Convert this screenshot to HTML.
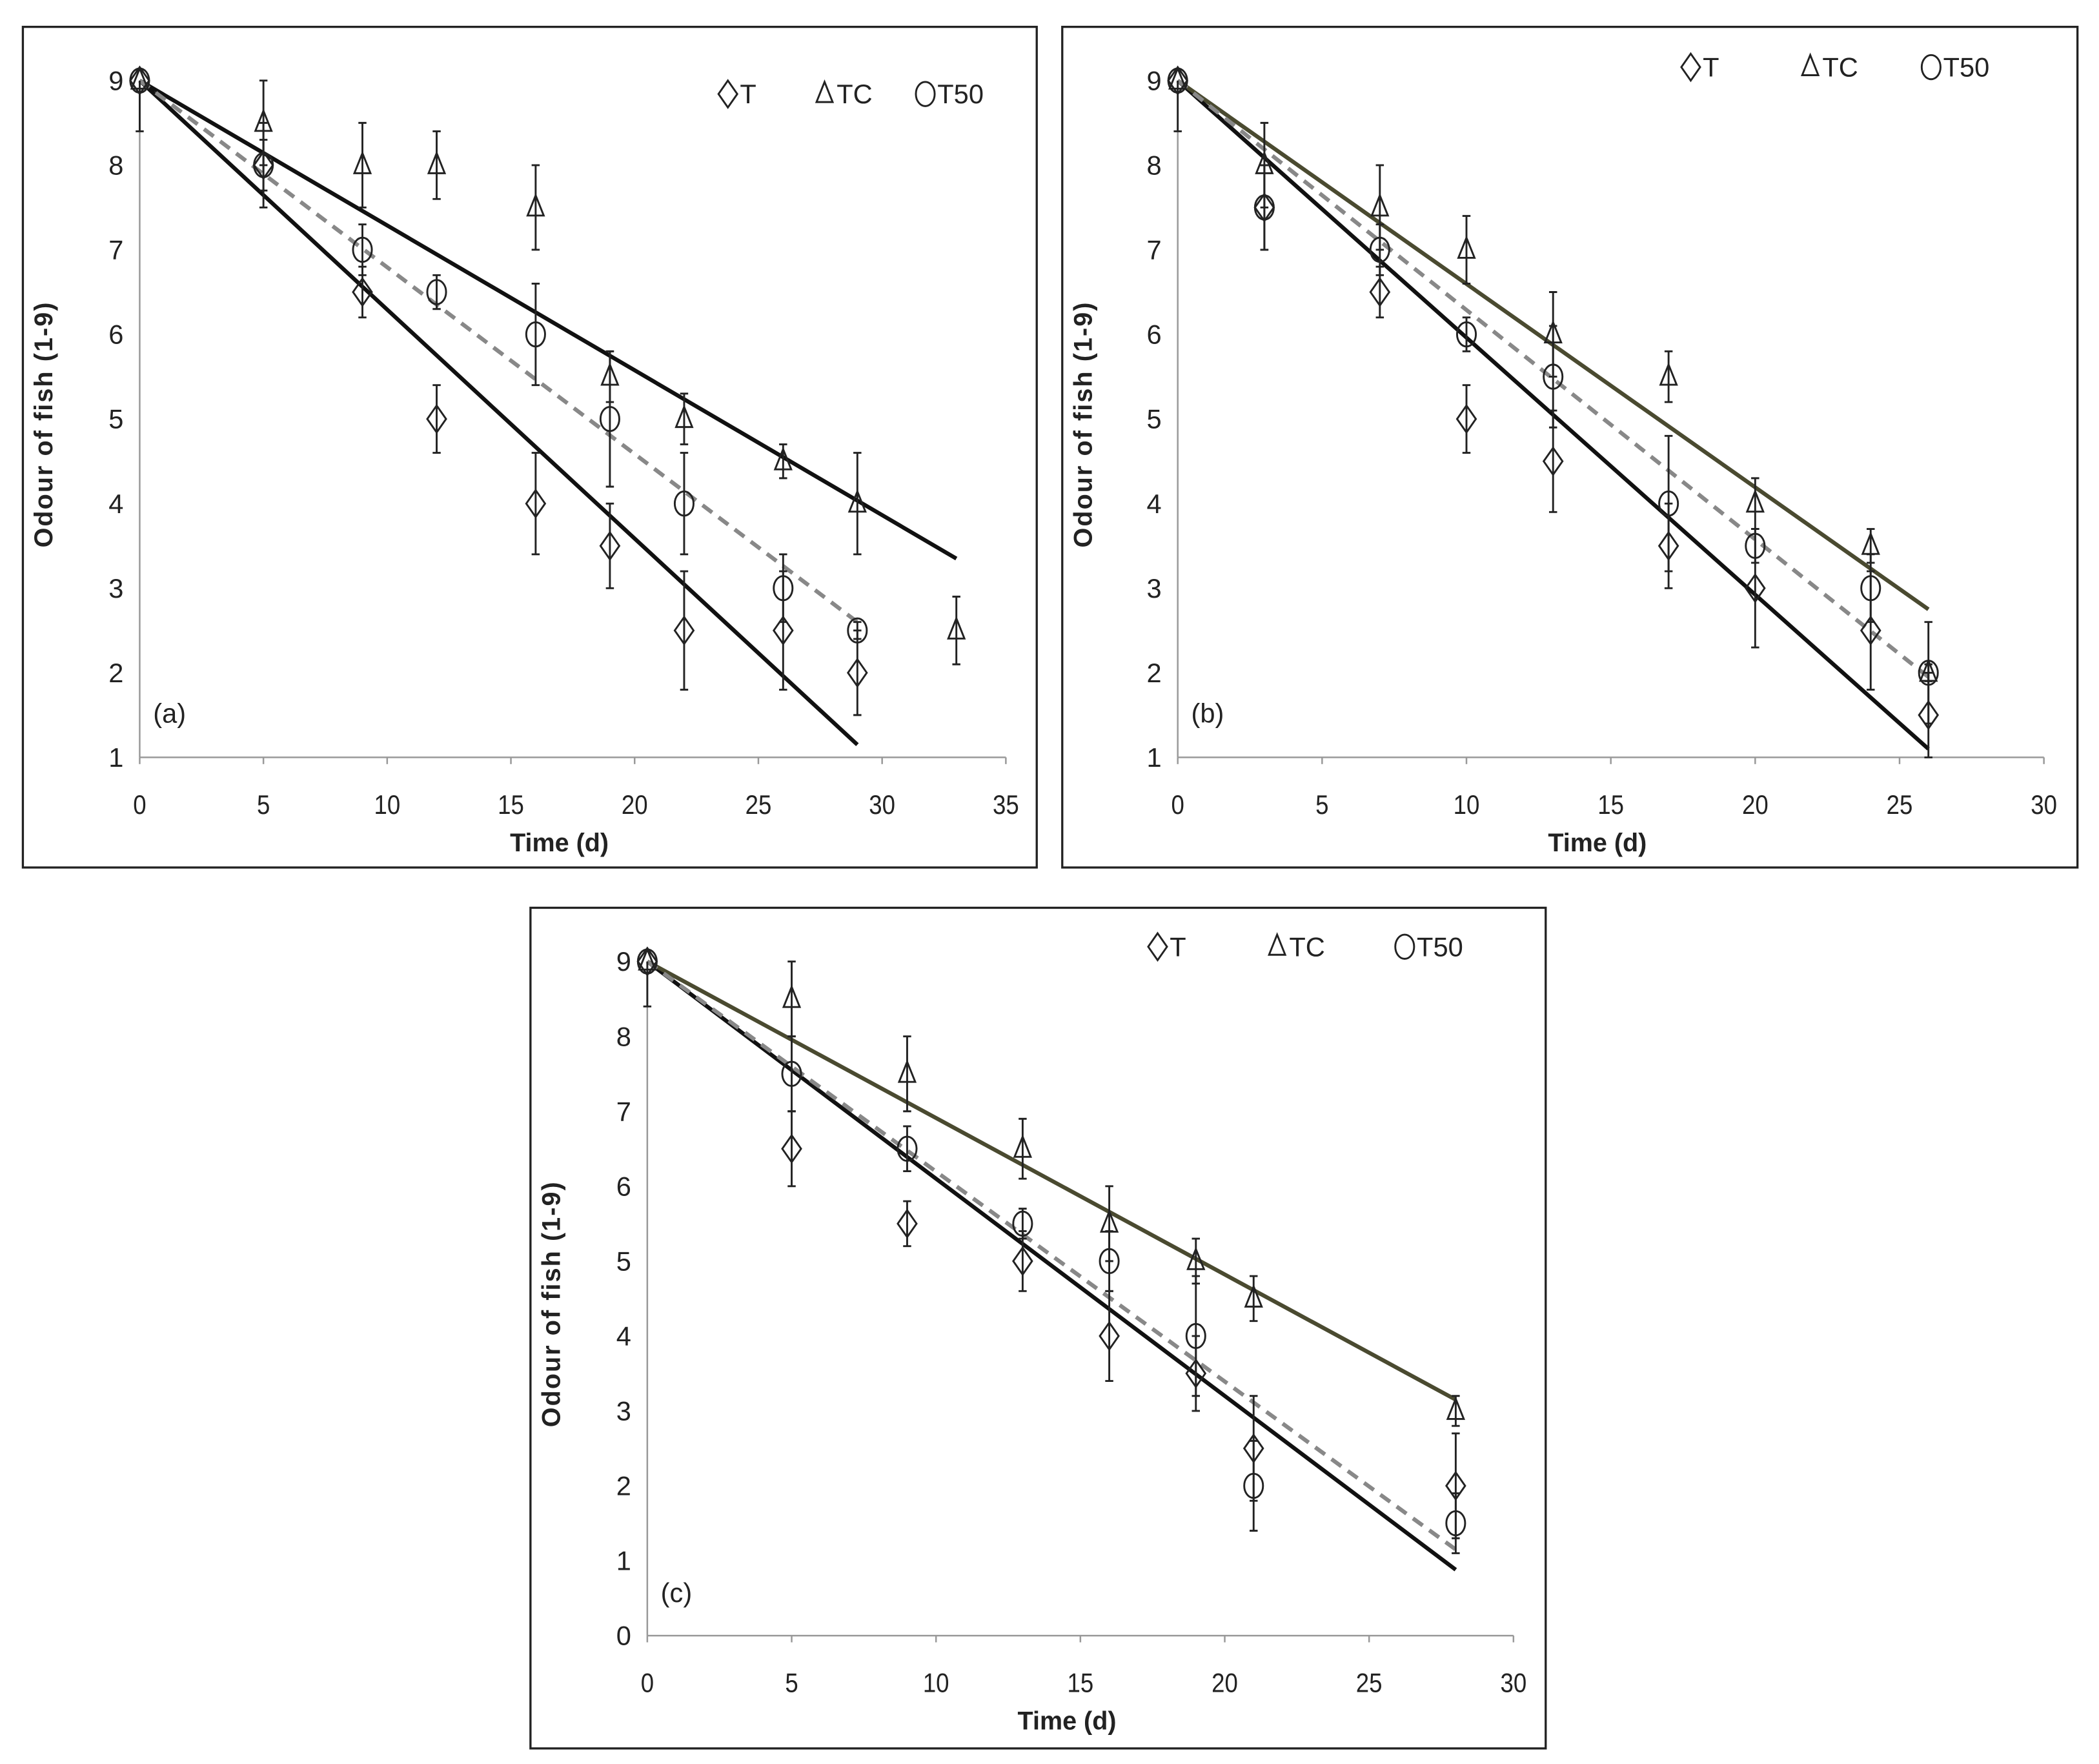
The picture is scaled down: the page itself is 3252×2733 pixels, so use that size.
<!DOCTYPE html>
<html><head><meta charset="utf-8"><style>
html,body{margin:0;padding:0;background:#fff;}
svg{display:block;}
text{font-family:"Liberation Sans",sans-serif;}
</style></head><body>
<svg id="fig" width="3252" height="2733" viewBox="0 0 1563 1313.6" xmlns="http://www.w3.org/2000/svg"></svg>
<script>
// Panel (a)
const aT_x=[0,5,9,12,16,19,22,26,29];
const aT_y=[9,8,6.5,5,4,3.5,2.5,2.5,2];
const aT_e=[0.6,0.5,0.3,0.4,0.6,0.5,0.7,0.7,0.5];
const aTC_x=[0,5,9,12,16,19,22,26,29,33];
const aTC_y=[9,8.5,8,8,7.5,5.5,5,4.5,4,2.5];
const aTC_e=[0,0.5,0.5,0.4,0.5,0.3,0.3,0.2,0.6,0.4];
const aT50_x=[0,5,9,12,16,19,22,26,29];
const aT50_y=[9,8,7,6.5,6,5,4,3,2.5];
const aT50_e=[0,0.3,0.3,0.2,0.6,0.8,0.6,0.4,0.1];
const aFit_T=[0,9,29,1.15];
const aFit_TC=[0,9,33,3.35];
const aFit_T50=[0,9,29,2.6];
// Panel (b)
const bT_x=[0,3,7,10,13,17,20,24,26];
const bT_y=[9,7.5,6.5,5,4.5,3.5,3,2.5,1.5];
const bT_e=[0.6,0.5,0.3,0.4,0.6,0.5,0.7,0.7,0.5];
const bTC_x=[0,3,7,10,13,17,20,24,26];
const bTC_y=[9,8,7.5,7,6,5.5,4,3.5,2];
const bTC_e=[0,0.5,0.5,0.4,0.5,0.3,0.3,0.2,0.6];
const bT50_x=[0,3,7,10,13,17,20,24,26];
const bT50_y=[9,7.5,7,6,5.5,4,3.5,3,2];
const bT50_e=[0,0.5,0.3,0.2,0.6,0.8,0.2,0.4,0.1];
const bFit_T=[0,9,26,1.1];
const bFit_TC=[0,9,26,2.75];
const bFit_T50=[0,9,26,1.95];
// Panel (c)
const cT_x=[0,5,9,13,16,19,21,28];
const cT_y=[9,6.5,5.5,5,4,3.5,2.5,2];
const cT_e=[0.6,0.5,0.3,0.4,0.6,0.5,0.7,0.7];
const cTC_x=[0,5,9,13,16,19,21,28];
const cTC_y=[9,8.5,7.5,6.5,5.5,5,4.5,3];
const cTC_e=[0,0.5,0.5,0.4,0.5,0.3,0.3,0.2];
const cT50_x=[0,5,9,13,16,19,21,28];
const cT50_y=[9,7.5,6.5,5.5,5,4,2,1.5];
const cT50_e=[0,0.5,0.3,0.2,0.4,0.8,0.6,0.4];
const cFit_T=[0,9,28,0.88];
const cFit_TC=[0,9,28,3.15];
const cFit_T50=[0,9,28,1.15];

const NS="http://www.w3.org/2000/svg";
const svg=document.getElementById('fig');
function mk(tag,attrs,parent){const e=document.createElementNS(NS,tag);for(const k in attrs)e.setAttribute(k,attrs[k]);(parent||svg).appendChild(e);return e;}

function panel(cfg){
  const g=mk('g',{});
  
  
  const fr=mk('rect',{x:cfg.fx,y:cfg.fy,width:cfg.fw,height:cfg.fh,fill:'none',stroke:'#222','stroke-width':1.6},g);
  
  
  const X=v=>cfg.x0+(v-cfg.xmin)/(cfg.xmax-cfg.xmin)*(cfg.x1-cfg.x0);
  const Y=v=>cfg.y0+(v-cfg.ymin)/(cfg.ymax-cfg.ymin)*(cfg.y1-cfg.y0);
  const ax=mk('line',{x1:X(cfg.xmin),y1:Y(cfg.ymin),x2:X(cfg.xmax),y2:Y(cfg.ymin),stroke:'#999','stroke-width':1.2},g);
  
  
  const ay=mk('line',{x1:X(cfg.xmin),y1:Y(cfg.ymin),x2:X(cfg.xmin),y2:Y(cfg.ymax),stroke:'#999','stroke-width':1.2},g);
  
  
  for(let v=cfg.xmin;v<=cfg.xmax;v+=5){
    mk('line',{x1:X(v),y1:Y(cfg.ymin),x2:X(v),y2:Y(cfg.ymin)+5,stroke:'#999','stroke-width':1.2},g);
    const t=mk('text',{x:X(v),y:Y(cfg.ymin)+42,'text-anchor':'middle','font-size':20,fill:'#222',transform:`translate(${X(v)*0.12} 0) scale(0.88 1)`},g);
    t.setAttribute('x',X(v));
    t.textContent=v;
    
    
  }
  for(let v=cfg.ymin;v<=cfg.ymax;v++){
    const t=mk('text',{x:X(cfg.xmin)-12,y:Y(v)+7,'text-anchor':'end','font-size':20,fill:'#222'},g);
    t.textContent=v;
    
    
  }
  const xt=mk('text',{x:(cfg.x0+cfg.x1)/2-10,y:Y(cfg.ymin)+70,'text-anchor':'middle','font-size':19,'font-weight':'bold',fill:'#222'},g);
  xt.textContent='Time (d)';
  
  
  const yc=(cfg.y0+cfg.y1)/2+4;
  const ytl=mk('text',{x:cfg.fx+22,y:yc,'text-anchor':'middle','font-size':19,'font-weight':'bold',fill:'#222',transform:`rotate(-90 ${cfg.fx+22} ${yc})`,'letter-spacing':'1'},g);
  ytl.textContent='Odour of fish (1-9)';
  
  
  const lab=mk('text',{x:X(cfg.xmin)+10,y:cfg.labY,'font-size':20,'font-family':'Liberation Serif, serif',fill:'#222'},g);
  lab.textContent='('+cfg.id+')';
  
  
  function fit(a,color,dash,name){
    const l=mk('line',{x1:X(a[0]),y1:Y(a[1]),x2:X(a[2]),y2:Y(a[3]),stroke:color,'stroke-width':3,'stroke-dasharray':dash||'none'},g);
    
    
  }
  fit(cfg.fT,'#111',null,'trendline-t');
  fit(cfg.fTC,cfg.tcColor,null,'trendline-tc');
  fit(cfg.fT50,'#888','9 6','trendline-t50');
  function marker(kind,cx,cy){
    let m;
    if(kind==='d') m=mk('polygon',{points:`${cx},${cy-10} ${cx+7},${cy} ${cx},${cy+10} ${cx-7},${cy}`,fill:'none',stroke:'#222','stroke-width':1.4},g);
    else if(kind==='t') m=mk('polygon',{points:`${cx},${cy-9} ${cx+6},${cy+6} ${cx-6},${cy+6}`,fill:'none',stroke:'#222','stroke-width':1.4},g);
    else m=mk('ellipse',{cx:cx,cy:cy,rx:7,ry:9,fill:'none',stroke:'#222','stroke-width':1.4},g);
    return m;
  }
  function series(xs,ys,es,kind,name){
    for(let i=0;i<xs.length;i++){
      const cx=X(xs[i]),cy=Y(ys[i]);
      if(es[i]>0){
        const lowerOnly=(ys[i]+es[i]>cfg.ymax);
        const ya=lowerOnly?cy:Y(ys[i]+es[i]),yb=Y(ys[i]-es[i]);
        let d=`M${cx},${ya}V${yb}M${cx-3},${yb}H${cx+3}`;
        if(!lowerOnly) d+=`M${cx-3},${ya}H${cx+3}`;
        const eb=mk('path',{d:d,stroke:'#222','stroke-width':1.4,fill:'none'},g);
        
        
      }
      const m=marker(kind,cx,cy);
      
      
    }
  }
  series(cfg.T[0],cfg.T[1],cfg.T[2],'d','t');
  series(cfg.TC[0],cfg.TC[1],cfg.TC[2],'t','tc');
  series(cfg.T50[0],cfg.T50[1],cfg.T50[2],'c','t50');
  const L=[['d','T'],['t','TC'],['c','T50']];
  L.forEach((e,i)=>{
    const lx=cfg.legX[i],ly=cfg.legY;
    const m=marker(e[0],lx,ly);
    
    
    const t=mk('text',{x:lx+9,y:ly+7,'font-size':20,fill:'#222'},g);
    t.textContent=e[1];
    
    
  });
}
panel({id:'a',fx:17,fy:20,fw:755,fh:626,x0:104,x1:749,y0:564,y1:60,xmin:0,xmax:35,ymin:1,ymax:9,
  labY:538,legX:[542,614,689],legY:70,tcColor:'#111',
  T:[aT_x,aT_y,aT_e],TC:[aTC_x,aTC_y,aTC_e],T50:[aT50_x,aT50_y,aT50_e],fT:aFit_T,fTC:aFit_TC,fT50:aFit_T50});
panel({id:'b',fx:791,fy:20,fw:756,fh:626,x0:877,x1:1522,y0:564,y1:60,xmin:0,xmax:30,ymin:1,ymax:9,
  labY:538,legX:[1259,1348,1438],legY:50,tcColor:'#4a4a30',
  T:[bT_x,bT_y,bT_e],TC:[bTC_x,bTC_y,bTC_e],T50:[bT50_x,bT50_y,bT50_e],fT:bFit_T,fTC:bFit_TC,fT50:bFit_T50});
panel({id:'c',fx:395,fy:676,fw:756,fh:626,x0:482,x1:1127,y0:1218,y1:716,xmin:0,xmax:30,ymin:0,ymax:9,
  labY:1193,legX:[862,951,1046],legY:705,tcColor:'#4a4a30',
  T:[cT_x,cT_y,cT_e],TC:[cTC_x,cTC_y,cTC_e],T50:[cT50_x,cT50_y,cT50_e],fT:cFit_T,fTC:cFit_TC,fT50:cFit_T50});
</script>
</body></html>
